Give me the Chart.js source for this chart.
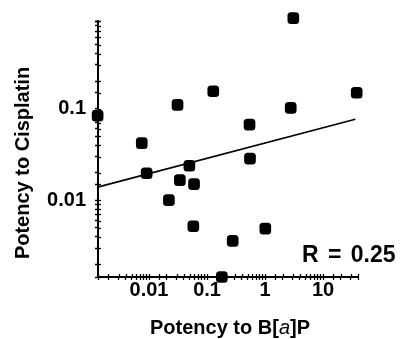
<!DOCTYPE html>
<html>
<head>
<meta charset="utf-8">
<script src="https://cdn.jsdelivr.net/npm/chart.js@4/dist/chart.umd.min.js"></script>
<style>
html,body{margin:0;padding:0;background:#fff;}
#wrap{width:400px;height:339px;position:relative;}
</style>
</head>
<body>
<div id="wrap"><canvas id="c" width="400" height="339"></canvas></div>
<script>
// Data (log-log scatter)
const potencyBaP = [0.0013, 0.0075, 0.0091, 0.031, 0.128, 0.54, 3.07, 2.77, 38, 0.0496, 0.034, 0.0597, 0.022, 0.55, 0.058, 0.277, 1.01, 0.18];
const potencyCisplatin = [0.084, 0.042, 0.0197, 0.11, 0.155, 0.067, 0.975, 0.102, 0.149, 0.0238, 0.0166, 0.015, 0.01, 0.0285, 0.0052, 0.0036, 0.0049, 0.00145];
const fitX = [0.0013, 36];
const fitY = [0.0139, 0.0767];
const xTickLabels = ['0.01', '0.1', '1', '10'];
const yTickLabels = ['0.01', '0.1'];
const xTitleParts = ['Potency to B[', 'a', ']P'];
const yTitle = 'Potency to Cisplatin';
const rLabel = 'R = 0.25';

const FONT = '"Liberation Sans", Arial, sans-serif';

const points = potencyBaP.map((x, i) => ({x, y: potencyCisplatin[i]}));
const fit = fitX.map((x, i) => ({x, y: fitY[i]}));

function fmt(v) {
  return String(+v.toPrecision(6));
}

const textPlugin = {
  id: 'texts',
  afterDraw(chart) {
    const ctx = chart.ctx;
    const a = chart.chartArea;
    ctx.save();
    ctx.fillStyle = '#000';
    ctx.strokeStyle = '#000';
    // inward tick marks (ticks cross the axes)
    ctx.lineWidth = 1.3;
    const xs = chart.scales.x, ys = chart.scales.y;
    xs.ticks.forEach((t, i) => {
      const px = Math.round(xs.getPixelForTick(i)) + 0.5;
      ctx.beginPath(); ctx.moveTo(px, a.bottom); ctx.lineTo(px, a.bottom - 3); ctx.stroke();
    });
    ys.ticks.forEach((t, i) => {
      const py = Math.round(ys.getPixelForTick(i)) + 0.5;
      ctx.beginPath(); ctx.moveTo(a.left, py); ctx.lineTo(a.left + 3, py); ctx.stroke();
    });
    // y title
    ctx.font = 'bold 20px ' + FONT;
    ctx.textAlign = 'center';
    ctx.textBaseline = 'middle';
    ctx.save();
    ctx.translate(23, (a.top + a.bottom) / 2 + 14);
    ctx.rotate(-Math.PI / 2);
    ctx.fillText(yTitle, 0, 0);
    ctx.restore();
    // x title with italic part
    const fonts = ['bold 20px ' + FONT, 'italic 20px ' + FONT, 'bold 20px ' + FONT];
    const widths = xTitleParts.map((t, i) => { ctx.font = fonts[i]; return ctx.measureText(t).width; });
    const total = widths.reduce((s, w) => s + w, 0);
    let x = 230 - total / 2;
    ctx.textAlign = 'left';
    ctx.textBaseline = 'alphabetic';
    xTitleParts.forEach((t, i) => {
      ctx.font = fonts[i];
      ctx.fillText(t, x, 334);
      x += widths[i];
    });
    // R label
    ctx.font = 'bold 23px ' + FONT;
    try { ctx.wordSpacing = '3px'; } catch (e) {}
    ctx.fillText(rLabel, 302, 262);
    ctx.restore();
  }
};

new Chart(document.getElementById('c'), {
  type: 'scatter',
  data: {
    datasets: [
      {
        type: 'line',
        data: fit,
        borderColor: '#000',
        borderWidth: 1.6,
        pointRadius: 0,
        fill: false,
        clip: false
      },
      {
        data: points,
        pointStyle: 'rectRounded',
        pointRadius: 6.8,
        backgroundColor: '#000',
        borderColor: '#000',
        borderWidth: 0,
        clip: false
      }
    ]
  },
  options: {
    responsive: false,
    animation: false,
    devicePixelRatio: 1,
    layout: { padding: { left: 0, right: 42, top: 17, bottom: 0 } },
    plugins: { legend: { display: false }, tooltip: { enabled: false } },
    scales: {
      x: {
        type: 'logarithmic',
        min: 0.00132,
        max: 40,
        afterFit(s) { s.height = 62; },
        border: { display: true, color: '#000', width: 2 },
        grid: { drawOnChartArea: false, drawTicks: true, tickLength: 3, color: '#000', tickWidth: 1.3 },
        ticks: {
          autoSkip: false,
          maxRotation: 0,
          padding: -2,
          color: '#000',
          font: { family: FONT, size: 20, weight: 'bold' },
          callback(v) { const s = fmt(v); return xTickLabels.includes(s) ? s : ''; }
        }
      },
      y: {
        type: 'logarithmic',
        min: 0.00145,
        max: 0.906,
        afterFit(s) { s.width = 98; },
        border: { display: true, color: '#000', width: 2 },
        grid: { drawOnChartArea: false, drawTicks: true, tickLength: 3, color: '#000', tickWidth: 1.3 },
        ticks: {
          autoSkip: false,
          padding: 9,
          color: '#000',
          font: { family: FONT, size: 20, weight: 'bold' },
          callback(v) { const s = fmt(v); return yTickLabels.includes(s) ? s : ''; }
        }
      }
    }
  },
  plugins: [textPlugin]
});
</script>
</body>
</html>
